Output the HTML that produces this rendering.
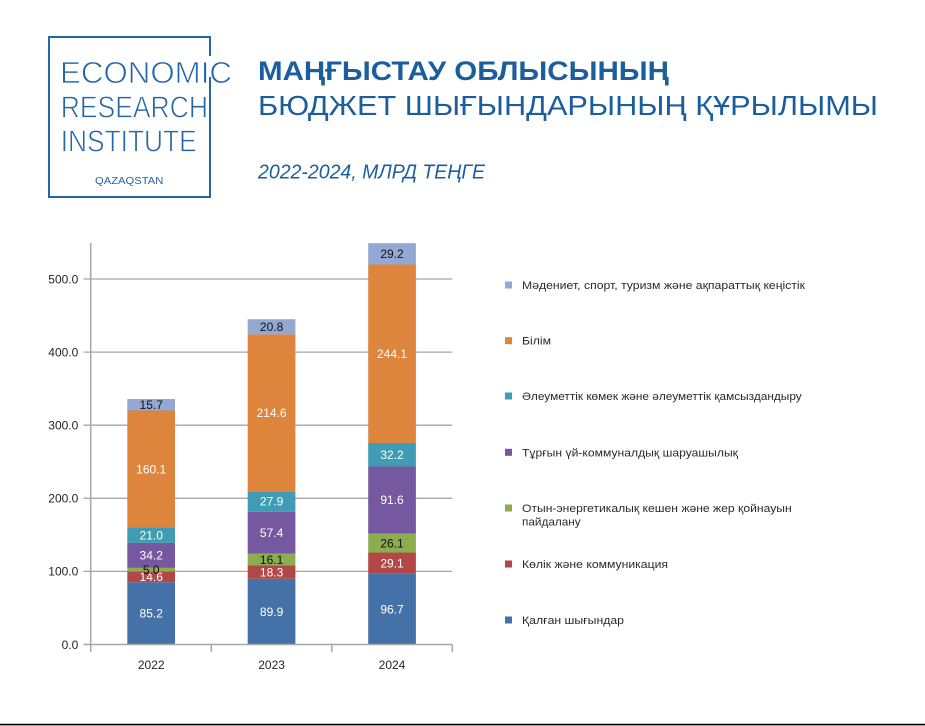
<!DOCTYPE html>
<html>
<head>
<meta charset="utf-8">
<style>
html,body{margin:0;padding:0;background:#fff;}
body{width:925px;height:726px;overflow:hidden;}
svg{display:block;}
text{font-family:"Liberation Sans","DejaVu Sans",sans-serif;}
</style>
</head>
<body>
<svg width="925" height="726" viewBox="0 0 925 726" xmlns="http://www.w3.org/2000/svg">
<rect x="0" y="0" width="925" height="726" fill="#ffffff"/>

<!-- Logo -->
<g fill="none" stroke="#2466a8" stroke-width="2">
  <polyline points="210,56 210,37 49,37 49,197 210,197 210,77"/>
</g>
<g fill="#2466a8" stroke="#ffffff" stroke-width="0.8" paint-order="normal">
  <text x="60" y="83" font-size="31" textLength="172" lengthAdjust="spacingAndGlyphs">ECONOMIC</text>
  <text x="60.7" y="117.3" font-size="31" textLength="147.3" lengthAdjust="spacingAndGlyphs">RESEARCH</text>
  <text x="60.7" y="151.7" font-size="31" textLength="136" lengthAdjust="spacingAndGlyphs">INSTITUTE</text>
</g>
<text x="95" y="184" font-size="10" fill="#2466a8" textLength="68.3" lengthAdjust="spacingAndGlyphs">QAZAQSTAN</text>

<!-- Titles -->
<text x="258" y="80" font-size="27" font-weight="bold" fill="#1b5e9d" textLength="411" lengthAdjust="spacingAndGlyphs">МАҢҒЫСТАУ ОБЛЫСЫНЫҢ</text>
<text x="258" y="115" font-size="28" fill="#1b5e9d" textLength="620" lengthAdjust="spacingAndGlyphs">БЮДЖЕТ ШЫҒЫНДАРЫНЫҢ ҚҰРЫЛЫМЫ</text>
<text x="258" y="178.3" font-size="20" font-style="italic" fill="#1b5e9d" textLength="227" lengthAdjust="spacingAndGlyphs">2022-2024, МЛРД ТЕҢГЕ</text>

<!-- Gridlines -->
<g stroke="#a6a6a6" stroke-width="1.3">
  <line x1="83.5" y1="571.4" x2="452.3" y2="571.4"/>
  <line x1="83.5" y1="498.3" x2="452.3" y2="498.3"/>
  <line x1="83.5" y1="425.2" x2="452.3" y2="425.2"/>
  <line x1="83.5" y1="352.1" x2="452.3" y2="352.1"/>
  <line x1="83.5" y1="279" x2="452.3" y2="279"/>
</g>

<!-- Bars 2022 -->
<g>
  <rect x="127.3" y="582.22" width="47.7" height="62.28" fill="#4571a9"/>
  <rect x="127.3" y="571.55" width="47.7" height="10.67" fill="#b24747"/>
  <rect x="127.3" y="567.89" width="47.7" height="3.66" fill="#8dab4f"/>
  <rect x="127.3" y="542.89" width="47.7" height="25.0" fill="#7558a0"/>
  <rect x="127.3" y="527.54" width="47.7" height="15.35" fill="#3f9cb4"/>
  <rect x="127.3" y="410.51" width="47.7" height="117.03" fill="#dd843d"/>
  <rect x="127.3" y="399.03" width="47.7" height="11.48" fill="#93a9d3"/>
</g>
<!-- Bars 2023 -->
<g>
  <rect x="247.7" y="578.78" width="47.7" height="65.72" fill="#4571a9"/>
  <rect x="247.7" y="565.41" width="47.7" height="13.37" fill="#b24747"/>
  <rect x="247.7" y="553.64" width="47.7" height="11.77" fill="#8dab4f"/>
  <rect x="247.7" y="511.68" width="47.7" height="41.96" fill="#7558a0"/>
  <rect x="247.7" y="491.28" width="47.7" height="20.4" fill="#3f9cb4"/>
  <rect x="247.7" y="334.41" width="47.7" height="156.87" fill="#dd843d"/>
  <rect x="247.7" y="319.21" width="47.7" height="15.2" fill="#93a9d3"/>
</g>
<!-- Bars 2024 -->
<g>
  <rect x="368.2" y="573.81" width="47.7" height="70.69" fill="#4571a9"/>
  <rect x="368.2" y="552.54" width="47.7" height="21.27" fill="#b24747"/>
  <rect x="368.2" y="533.46" width="47.7" height="19.08" fill="#8dab4f"/>
  <rect x="368.2" y="466.50" width="47.7" height="66.96" fill="#7558a0"/>
  <rect x="368.2" y="442.96" width="47.7" height="23.54" fill="#3f9cb4"/>
  <rect x="368.2" y="264.5" width="47.7" height="178.46" fill="#dd843d"/>
  <rect x="368.2" y="243.18" width="47.7" height="21.32" fill="#93a9d3"/>
</g>

<!-- Axes -->
<g stroke="#a6a6a6" stroke-width="1.5">
  <line x1="90.7" y1="243" x2="90.7" y2="652"/>
  <line x1="83.5" y1="644.5" x2="452.3" y2="644.5"/>
  <line x1="211.3" y1="644.5" x2="211.3" y2="652"/>
  <line x1="331.8" y1="644.5" x2="331.8" y2="652"/>
  <line x1="452.3" y1="644.5" x2="452.3" y2="652"/>
</g>

<!-- Y labels -->
<g font-size="12" fill="#262626" text-anchor="end">
  <text x="78.3" y="648.8">0.0</text>
  <text x="78.3" y="575.7">100.0</text>
  <text x="78.3" y="502.6">200.0</text>
  <text x="78.3" y="429.5">300.0</text>
  <text x="78.3" y="356.4">400.0</text>
  <text x="78.3" y="283.3">500.0</text>
</g>
<!-- X labels -->
<g font-size="12" fill="#262626" text-anchor="middle">
  <text x="151.2" y="669">2022</text>
  <text x="271.6" y="669">2023</text>
  <text x="392" y="669">2024</text>
</g>

<!-- Data labels -->
<g font-size="12" text-anchor="middle">
  <text x="151.2" y="617.6" fill="#fff">85.2</text>
  <text x="151.2" y="581.1" fill="#fff">14.6</text>
  <text x="151.2" y="574" fill="#111">5.0</text>
  <text x="151.2" y="559.6" fill="#fff">34.2</text>
  <text x="151.2" y="539.5" fill="#fff">21.0</text>
  <text x="151.2" y="473.3" fill="#fff">160.1</text>
  <text x="151.2" y="409" fill="#111">15.7</text>

  <text x="271.6" y="615.9" fill="#fff">89.9</text>
  <text x="271.6" y="576.4" fill="#fff">18.3</text>
  <text x="271.6" y="563.8" fill="#111">16.1</text>
  <text x="271.6" y="536.9" fill="#fff">57.4</text>
  <text x="271.6" y="505.7" fill="#fff">27.9</text>
  <text x="271.6" y="417.1" fill="#fff">214.6</text>
  <text x="271.6" y="331.1" fill="#111">20.8</text>

  <text x="392" y="613.4" fill="#fff">96.7</text>
  <text x="392" y="567.4" fill="#fff">29.1</text>
  <text x="392" y="547.3" fill="#111">26.1</text>
  <text x="392" y="504.2" fill="#fff">91.6</text>
  <text x="392" y="459" fill="#fff">32.2</text>
  <text x="392" y="358" fill="#fff">244.1</text>
  <text x="392" y="258.1" fill="#111">29.2</text>
</g>

<!-- Legend -->
<g>
  <rect x="505" y="281.5" width="7" height="7" fill="#93a9d3"/>
  <rect x="505" y="337.2" width="7" height="7" fill="#dd843d"/>
  <rect x="505" y="392.5" width="7" height="7" fill="#3f9cb4"/>
  <rect x="505" y="448.8" width="7" height="7" fill="#7558a0"/>
  <rect x="505" y="504.5" width="7" height="7" fill="#8dab4f"/>
  <rect x="505" y="560.5" width="7" height="7" fill="#b24747"/>
  <rect x="505" y="616.5" width="7" height="7" fill="#4571a9"/>
</g>
<g font-size="11" fill="#2a2a2a">
  <text x="522" y="289" textLength="283" lengthAdjust="spacingAndGlyphs">Мәдениет, спорт, туризм және ақпараттық кеңістік</text>
  <text x="522" y="344.7" textLength="29" lengthAdjust="spacingAndGlyphs">Білім</text>
  <text x="522" y="400" textLength="279.7" lengthAdjust="spacingAndGlyphs">Әлеуметтік көмек және әлеуметтік қамсыздандыру</text>
  <text x="522" y="456.3" textLength="216" lengthAdjust="spacingAndGlyphs">Тұрғын үй-коммуналдық шаруашылық</text>
  <text x="522" y="512" textLength="269.7" lengthAdjust="spacingAndGlyphs">Отын-энергетикалық кешен және жер қойнауын</text>
  <text x="522" y="525.7" textLength="58.7" lengthAdjust="spacingAndGlyphs">пайдалану</text>
  <text x="522" y="568" textLength="146" lengthAdjust="spacingAndGlyphs">Көлік және коммуникация</text>
  <text x="522" y="624" textLength="102" lengthAdjust="spacingAndGlyphs">Қалған шығындар</text>
</g>

<!-- Bottom line -->
<line x1="0" y1="724.6" x2="925" y2="724.6" stroke="#000" stroke-width="1.6"/>
</svg>
</body>
</html>
